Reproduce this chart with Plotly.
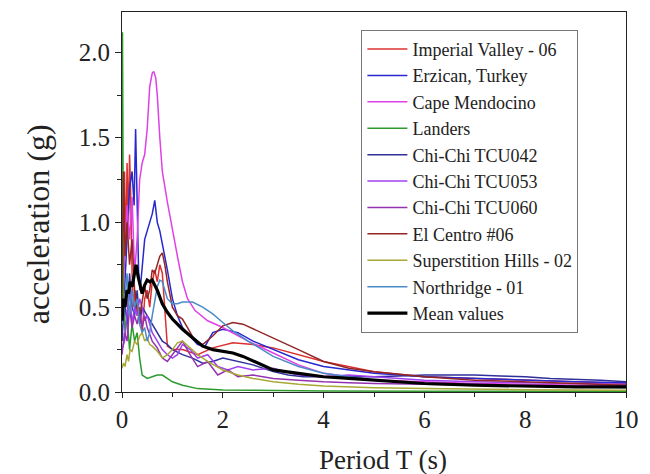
import plotly.graph_objects as go

# ---- data ----
names = ["Imperial Valley - 06", "Erzican, Turkey", "Cape Mendocino", "Landers",
         "Chi-Chi TCU042", "Chi-Chi TCU053", "Chi-Chi TCU060", "El Centro #06",
         "Superstition Hills - 02", "Northridge - 01", "Mean values"]

T_imperial = [0, 0.03, 0.05, 0.08, 0.1, 0.13, 0.15, 0.17, 0.2, 0.23, 0.26, 0.3, 0.35, 0.4, 0.45, 0.5, 0.55, 0.6,
              0.65, 0.7, 0.75, 0.8, 0.85, 0.9, 1.0, 1.2, 1.5, 1.8, 2.2, 2.6, 3.0, 3.5, 4, 5, 6, 7, 8, 9, 10]
A_imperial = [0.4, 0.9, 1.3, 0.8, 1.35, 1.0, 1.4, 1.2, 0.7, 0.5, 0.6, 0.45, 0.5, 0.35, 0.55, 0.6, 0.5, 0.65,
              0.72, 0.65, 0.75, 0.7, 0.45, 0.27, 0.25, 0.25, 0.22, 0.26, 0.29, 0.28, 0.26, 0.22, 0.18, 0.12, 0.09,
              0.08, 0.07, 0.06, 0.05]

T_erzican = [0, 0.05, 0.1, 0.15, 0.2, 0.24, 0.27, 0.3, 0.33, 0.36, 0.4, 0.45, 0.5, 0.55, 0.6, 0.65, 0.7, 0.75,
             0.8, 0.9, 1.0, 1.1, 1.2, 1.35, 1.5, 1.65, 1.8, 2.0, 2.3, 2.6, 3.0, 3.5, 4, 5, 6, 7, 8, 9, 10]
A_erzican = [0.5, 0.6, 0.9, 1.2, 1.3, 1.1, 1.55, 1.2, 0.7, 0.6, 0.75, 0.9, 0.95, 1.0, 1.05, 1.13, 1.0, 0.95,
             0.88, 0.72, 0.55, 0.45, 0.38, 0.33, 0.28, 0.27, 0.35, 0.37, 0.35, 0.3, 0.25, 0.19, 0.15, 0.11, 0.09,
             0.08, 0.07, 0.06, 0.055]

T_cape = [0, 0.05, 0.1, 0.15, 0.2, 0.25, 0.3, 0.35, 0.4, 0.45, 0.5, 0.55, 0.6, 0.63, 0.67, 0.7, 0.75, 0.8, 0.9,
          1.0, 1.1, 1.2, 1.3, 1.45, 1.7, 2.0, 2.5, 3.0, 3.5, 4, 5, 6, 7, 8, 9, 10]
A_cape = [0.35, 0.8, 1.1, 0.9, 1.15, 0.7, 0.9, 1.25, 1.35, 1.4, 1.55, 1.8, 1.88, 1.89, 1.85, 1.75, 1.5, 1.3, 1.12,
          0.95, 0.8, 0.65, 0.55, 0.48, 0.42, 0.38, 0.3, 0.23, 0.16, 0.11, 0.07, 0.06, 0.05, 0.045, 0.04, 0.035]

T_landers = [0, 0.01, 0.03, 0.06, 0.1, 0.15, 0.2, 0.25, 0.3, 0.35, 0.4, 0.5, 0.6, 0.7, 0.8, 0.9, 1.0, 1.2, 1.5,
             2, 3, 4, 6, 8, 10]
A_landers = [0.3, 2.12, 0.6, 0.35, 0.45, 0.25, 0.4, 0.3, 0.35, 0.2, 0.1, 0.08, 0.09, 0.1, 0.1, 0.08, 0.06, 0.04,
             0.02, 0.012, 0.008, 0.006, 0.005, 0.004, 0.004]

T_tcu042 = [0, 0.05, 0.1, 0.15, 0.2, 0.25, 0.3, 0.35, 0.4, 0.5, 0.6, 0.7, 0.8, 0.9, 1.0, 1.2, 1.4, 1.6, 1.8, 2.0,
            2.3, 2.6, 3.0, 3.3, 3.6, 4.0, 4.5, 5, 5.5, 6, 6.5, 7, 7.5, 8, 8.5, 9, 9.5, 10]
A_tcu042 = [0.3, 0.55, 0.4, 0.7, 0.5, 0.45, 0.6, 0.4, 0.5, 0.45, 0.4, 0.35, 0.3, 0.28, 0.25, 0.22, 0.2, 0.17,
            0.18, 0.2, 0.18, 0.16, 0.12, 0.1, 0.09, 0.09, 0.09, 0.09, 0.095, 0.1, 0.1, 0.1, 0.095, 0.09, 0.08,
            0.075, 0.07, 0.06]

T_tcu053 = [0, 0.05, 0.1, 0.15, 0.2, 0.25, 0.3, 0.35, 0.4, 0.45, 0.5, 0.6, 0.7, 0.8, 0.9, 1.0, 1.1, 1.2, 1.35,
            1.5, 1.7, 1.9, 2.1, 2.3, 2.6, 3.0, 3.5, 4, 4.5, 5, 6, 7, 8, 9, 10]
A_tcu053 = [0.25, 0.3, 0.45, 0.6, 0.4, 0.5, 0.45, 0.55, 0.5, 0.42, 0.45, 0.35, 0.3, 0.25, 0.22, 0.2, 0.22, 0.28,
            0.25, 0.2, 0.22, 0.15, 0.13, 0.15, 0.13, 0.14, 0.1, 0.09, 0.1, 0.09, 0.07, 0.06, 0.055, 0.05, 0.045]

T_tcu060 = T_tcu053
A_tcu060 = [0.22, 0.35, 0.3, 0.5, 0.38, 0.45, 0.4, 0.48, 0.38, 0.45, 0.38, 0.3, 0.26, 0.2, 0.18, 0.22, 0.26, 0.3,
            0.22, 0.15, 0.18, 0.1, 0.13, 0.09, 0.1, 0.08, 0.07, 0.06, 0.055, 0.05, 0.045, 0.04, 0.035, 0.03, 0.03]

T_elcentro = [0, 0.03, 0.06, 0.1, 0.15, 0.2, 0.25, 0.3, 0.35, 0.4, 0.45, 0.5, 0.55, 0.6, 0.65, 0.7, 0.75, 0.8,
              0.85, 0.9, 1.0, 1.1, 1.2, 1.3, 1.45, 1.6, 1.8, 2.0, 2.2, 2.4, 2.7, 3.0, 3.5, 4, 4.5, 5, 6, 7, 8, 9, 10]
A_elcentro = [0.5, 1.3, 0.8, 1.0, 0.75, 0.9, 0.6, 0.5, 0.45, 0.55, 0.62, 0.55, 0.6, 0.72, 0.7, 0.75, 0.8, 0.82,
              0.75, 0.65, 0.5, 0.45, 0.43, 0.38, 0.3, 0.28, 0.33, 0.39, 0.41, 0.4, 0.36, 0.32, 0.25, 0.18, 0.14,
              0.12, 0.09, 0.07, 0.06, 0.05, 0.04]

T_superst = [0, 0.03, 0.06, 0.1, 0.13, 0.16, 0.2, 0.25, 0.3, 0.35, 0.4, 0.45, 0.5, 0.55, 0.6, 0.7, 0.8, 0.9, 1.0,
             1.1, 1.2, 1.35, 1.5, 1.7, 2.0, 2.3, 2.6, 3.0, 3.5, 4, 5, 6, 7, 8, 9, 10]
A_superst = [0.14, 0.17, 0.15, 0.22, 0.18, 0.25, 0.24, 0.3, 0.28, 0.33, 0.35, 0.3, 0.32, 0.28, 0.27, 0.24, 0.2,
             0.22, 0.25, 0.29, 0.3, 0.26, 0.22, 0.18, 0.13, 0.1, 0.08, 0.06, 0.045, 0.035, 0.025, 0.02, 0.015,
             0.013, 0.012, 0.01]

T_northr = [0, 0.05, 0.1, 0.15, 0.2, 0.25, 0.3, 0.35, 0.4, 0.45, 0.5, 0.55, 0.6, 0.65, 0.7, 0.75, 0.8, 0.85, 0.9,
            1.0, 1.1, 1.2, 1.4, 1.6, 1.8, 2.0, 2.2, 2.5, 3.0, 3.5, 4, 5, 6, 7, 8, 9, 10]
A_northr = [0.4, 0.5, 0.7, 0.45, 0.6, 0.5, 0.55, 0.4, 0.35, 0.38, 0.3, 0.35, 0.45, 0.55, 0.62, 0.66, 0.65, 0.6,
            0.55, 0.52, 0.52, 0.53, 0.53, 0.5, 0.46, 0.41, 0.36, 0.3, 0.21, 0.15, 0.11, 0.07, 0.05, 0.04, 0.035,
            0.03, 0.025]

T_mean = [0, 0.03, 0.06, 0.1, 0.13, 0.16, 0.2, 0.24, 0.28, 0.32, 0.36, 0.4, 0.45, 0.5, 0.55, 0.6, 0.65, 0.7, 0.8,
          0.9, 1.0, 1.1, 1.2, 1.4, 1.6, 1.8, 2.0, 2.2, 2.4, 2.7, 3.0, 3.5, 4, 4.5, 5, 6, 7, 8, 9, 10]
A_mean = [0.42, 0.55, 0.5, 0.6, 0.58, 0.65, 0.62, 0.7, 0.75, 0.68, 0.62, 0.58, 0.63, 0.66, 0.65, 0.66, 0.63, 0.6,
          0.52, 0.47, 0.43, 0.4, 0.37, 0.32, 0.27, 0.25, 0.24, 0.23, 0.21, 0.17, 0.13, 0.11, 0.09, 0.08, 0.07,
          0.05, 0.04, 0.035, 0.03, 0.03]

x_ticks = [0, 2, 4, 6, 8, 10]
y_ticks = [0.0, 0.5, 1.0, 1.5, 2.0]
y_tick_text = ["0.0", "0.5", "1.0", "1.5", "2.0"]

colors = ["#dc3030", "#2828d0", "#e040e6", "#2e9a2e", "#30309a", "#a040f0", "#9432b0",
          "#922626", "#a8a834", "#4a8cc8", "#000000"]

series = [(T_imperial, A_imperial), (T_erzican, A_erzican), (T_cape, A_cape), (T_landers, A_landers),
          (T_tcu042, A_tcu042), (T_tcu053, A_tcu053), (T_tcu060, A_tcu060), (T_elcentro, A_elcentro),
          (T_superst, A_superst), (T_northr, A_northr), (T_mean, A_mean)]

SERIF = "Liberation Serif"

fig = go.Figure()
for i, (t, a) in enumerate(series):
    fig.add_trace(go.Scatter(
        x=t, y=a, mode="lines", name=names[i],
        line=dict(color=colors[i], width=3.2 if i == len(series) - 1 else 1.5),
    ))

fig.update_layout(
    width=650, height=474,
    margin=dict(l=122, r=12, t=11, b=82),
    paper_bgcolor="white", plot_bgcolor="white",
    font=dict(family=SERIF, color="#222"),
    showlegend=True,
    legend=dict(
        x=0.475, y=0.953, xanchor="left", yanchor="top",
        bordercolor="#777", borderwidth=1, bgcolor="white",
        font=dict(family=SERIF, size=18, color="#222"),
        tracegroupgap=0, itemwidth=40,
    ),
    xaxis=dict(
        range=[0, 10], tickvals=x_ticks, ticks="outside", ticklen=5, tickwidth=1,
        tickcolor="#222", showgrid=False, zeroline=False,
        showline=True, linecolor="#222", linewidth=1, mirror=True,
        tickfont=dict(family=SERIF, size=25, color="#222"),
        ticklabeloverflow="allow",
        minor=dict(dtick=1, ticks="outside", ticklen=4, tickcolor="#222", showgrid=False),
    ),
    yaxis=dict(
        range=[0, 2.24], tickvals=y_ticks, ticktext=y_tick_text, ticks="outside", ticklen=6,
        tickwidth=1, tickcolor="#222", showgrid=False, zeroline=False,
        showline=True, linecolor="#222", linewidth=1, mirror=True,
        tickfont=dict(family=SERIF, size=25, color="#222"),
        minor=dict(dtick=0.25, ticks="outside", ticklen=4, tickcolor="#222", showgrid=False),
    ),
    annotations=[
        dict(text="acceleration (g)", xref="paper", yref="paper", x=-0.165, y=0.441,
             xanchor="center", yanchor="middle", textangle=-90, showarrow=False,
             font=dict(family=SERIF, size=32, color="#222")),
        dict(text="Period T (s)", xref="paper", yref="paper", x=0.518, y=-0.18,
             xanchor="center", yanchor="middle", showarrow=False,
             font=dict(family=SERIF, size=27, color="#222")),
    ],
)

fig.write_html("out.html")
